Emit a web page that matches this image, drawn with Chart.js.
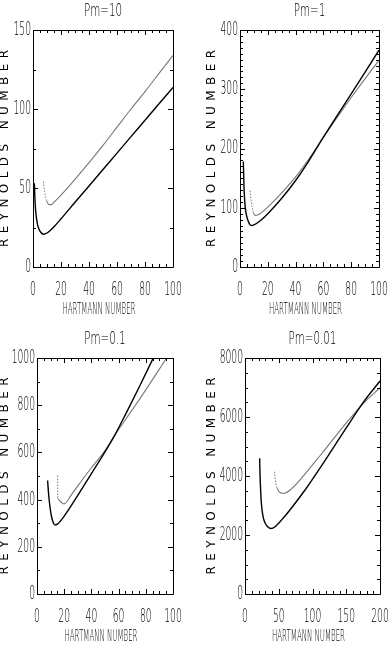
<!DOCTYPE html>
<html><head><meta charset="utf-8">
<script src="https://cdn.jsdelivr.net/npm/chart.js@4.4.1/dist/chart.umd.min.js"></script>
<style>
html,body{margin:0;padding:0;background:#fff;width:388px;height:652px;overflow:hidden}
canvas{position:absolute;left:0;top:0}
</style></head><body>
<canvas id="c1" width="388" height="652"></canvas>
<canvas id="c2" width="388" height="652"></canvas>
<canvas id="c3" width="388" height="652"></canvas>
<canvas id="c4" width="388" height="652"></canvas>
<script>
// ---------- Pm = 10 ----------
const pm10_xTicks = [0, 20, 40, 60, 80, 100];
const pm10_yTicks = [0, 50, 100, 150];
const pm10_blackH  = [1, 1.3, 1.7, 2.3, 3, 4, 5.5, 7.4, 10, 15, 20, 30, 40, 50, 60, 70, 80, 90, 100];
const pm10_blackRe = [53, 45, 38, 32, 28, 24.5, 22, 20.7, 21.5, 25.5, 30.5, 41, 51.3, 61.7, 72.1, 82.5, 92.9, 103.3, 113.7];
const pm10_dotH  = [7.4, 8.2, 9, 9.8];
const pm10_dotRe = [54, 48, 44, 41.5];
const pm10_grayH  = [9.8, 11.4, 13, 15, 20, 30, 40, 50, 60, 70, 80, 90, 100];
const pm10_grayRe = [41.5, 39.5, 39.5, 41, 45.5, 55.5, 66, 77, 88.5, 100, 111, 122.5, 134];

// ---------- Pm = 1 ----------
const pm1_xTicks = [0, 20, 40, 60, 80, 100];
const pm1_yTicks = [0, 100, 200, 300, 400];
const pm1_blackH  = [2.4, 2.7, 3, 3.5, 4, 5, 6, 7, 8.2, 10, 15, 20, 30, 40, 50, 60, 70, 80, 90, 100];
const pm1_blackRe = [178, 150, 128, 108, 96, 84, 77, 72, 70, 71, 79, 90, 116, 146, 181, 219, 256, 292, 329, 366];
const pm1_dotH  = [7.2, 8, 8.8, 9.6];
const pm1_dotRe = [129, 112, 100, 91];
const pm1_grayH  = [9.6, 10.8, 13, 15, 20, 30, 40, 50, 60, 70, 80, 90, 100];
const pm1_grayRe = [91, 87, 88, 91, 101, 125, 152, 184, 219, 253, 286, 318, 349];

// ---------- Pm = 0.1 ----------
const pm01_xTicks = [0, 20, 40, 60, 80, 100];
const pm01_yTicks = [0, 200, 400, 600, 800, 1000];
const pm01_blackH  = [7.8, 8.3, 9, 10, 11, 12, 13.2, 15, 20, 30, 40, 50, 57, 65, 75, 85.5];
const pm01_blackRe = [481, 440, 395, 350, 320, 302, 292, 296, 330, 418, 510, 602, 671, 760, 875, 1000];
const pm01_dotH  = [15.2, 15.2];
const pm01_dotRe = [502, 404];
const pm01_grayH  = [15.2, 20, 25, 30, 40, 50, 57, 70, 80, 95.3];
const pm01_grayRe = [404, 382, 418, 458, 535, 608, 671, 780, 865, 1000];

// ---------- Pm = 0.01 ----------
const pm001_xTicks = [0, 50, 100, 150, 200];
const pm001_yTicks = [0, 2000, 4000, 6000, 8000];
const pm001_blackH  = [21.7, 22.2, 23, 24, 25.5, 27.5, 30, 34, 38.5, 45, 55, 70, 90, 112, 130, 150, 176, 200];
const pm001_blackRe = [4600, 4100, 3600, 3150, 2800, 2550, 2400, 2270, 2220, 2290, 2530, 2950, 3560, 4300, 4930, 5630, 6520, 7220];
const pm001_dotH  = [43.7, 44.5, 45.5, 46.5, 47.7];
const pm001_dotRe = [4146, 3950, 3780, 3660, 3583];
const pm001_grayH  = [47.7, 50, 53, 56, 60, 65, 80, 100, 112, 130, 150, 174, 200];
const pm001_grayRe = [3583, 3480, 3430, 3413, 3425, 3490, 3830, 4380, 4712, 5230, 5800, 6430, 6993];

const panelTitles = ["Pm=10", "Pm=1", "Pm=0.1", "Pm=0.01"];
const xTitle = "HARTMANN NUMBER";
const yTitle = "REYNOLDS NUMBER";

const FONT = '200 19px "DejaVu Sans", "Liberation Sans", sans-serif';

function zip(xs, ys) { return xs.map((x, i) => ({x: x, y: ys[i]})); }

function condText(ctx, txt, x, y, font, sx, align) {
  ctx.save();
  ctx.translate(x, y);
  ctx.scale(sx, 1);
  ctx.font = font;
  ctx.textAlign = align;
  ctx.textBaseline = 'middle';
  ctx.fillStyle = '#000';
  ctx.fillText(txt, 0, 0);
  ctx.restore();
}
function scaleFor(ctx, font, sample, targetW) {
  ctx.save(); ctx.font = font; const w = ctx.measureText(sample).width; ctx.restore();
  return targetW / w;
}

const framePlugin = {
  id: 'frame',
  afterDraw(chart) {
    const o = chart.options.plugins.frame;
    const ctx = chart.ctx, a = chart.chartArea;
    const xs = chart.scales.x, ys = chart.scales.y;
    ctx.save();
    ctx.strokeStyle = '#000';
    ctx.lineWidth = 1;
    ctx.beginPath();
    ctx.rect(Math.round(a.left) + 0.5, Math.round(a.top) + 0.5, Math.round(a.right - a.left), Math.round(a.bottom - a.top));
    ctx.stroke();
    const MAJ = 5, MIN = 3;
    ctx.beginPath();
    for (let v = xs.min; v <= xs.max + 1e-9; v += o.xMinor) {
      const p = Math.round(xs.getPixelForValue(v)) + 0.5;
      const L = o.xTicks.includes(v) ? MAJ : MIN;
      ctx.moveTo(p, a.bottom); ctx.lineTo(p, a.bottom - L);
      ctx.moveTo(p, a.top); ctx.lineTo(p, a.top + L);
    }
    for (let v = ys.min; v <= ys.max + 1e-9; v += o.yMinor) {
      const p = Math.round(ys.getPixelForValue(v)) + 0.5;
      const L = o.yTicks.includes(v) ? MAJ : MIN;
      ctx.moveTo(a.left, p); ctx.lineTo(a.left + L, p);
      ctx.moveTo(a.right, p); ctx.lineTo(a.right - L, p);
    }
    ctx.stroke();
    // tick labels (condensed)
    const tf = '200 19px "DejaVu Sans", "Liberation Sans", sans-serif';
    const tsx = scaleFor(ctx, tf, '000', 17.5);
    o.xTicks.forEach(v => condText(ctx, String(v), xs.getPixelForValue(v), a.bottom + 23.5, tf, tsx, 'center'));
    o.yTicks.forEach(v => condText(ctx, String(v), a.left - 2, ys.getPixelForValue(v), tf, tsx, 'right'));
    // titles
    const cx = (a.left + a.right) / 2;
    const hf = '200 18px "DejaVu Sans", "Liberation Sans", sans-serif';
    const hsx = scaleFor(ctx, hf, 'Pm=10', 38);
    condText(ctx, o.title, cx, a.top - 19, hf, hsx, 'center');
    const xf = '200 16px "DejaVu Sans", "Liberation Sans", sans-serif';
    const xsx = scaleFor(ctx, xf, xTitle, 73);
    condText(ctx, xTitle, cx - 4, a.bottom + 43, xf, xsx, 'center');
    // y title rotated, letter spaced
    ctx.save();
    ctx.translate(o.yTitleX, (a.top + a.bottom) / 2);
    ctx.rotate(-Math.PI / 2);
    ctx.font = '12px "DejaVu Sans", sans-serif';
    ctx.fillStyle = '#000';
    ctx.textBaseline = 'middle';
    ctx.textAlign = 'left';
    const w0 = ctx.measureText(yTitle).width;
    const target = 197;
    const sp = (target - w0) / (yTitle.length - 1);
    let xx = -target / 2;
    for (const ch of yTitle) {
      ctx.fillText(ch, xx, 0);
      xx += ctx.measureText(ch).width + sp;
    }
    ctx.restore();
    ctx.restore();
  }
};

function makePanel(id, area, title, xMax, yMax, xTicks, yTicks, xMinor, yMinor, yTitleX, bH, bR, dH, dR, gH, gR) {
  new Chart(document.getElementById(id), {
    type: 'line',
    data: { datasets: [
      { data: zip(bH, bR), borderColor: '#000', borderWidth: 1.4, cubicInterpolationMode: 'monotone' },
      { data: zip(dH, dR), borderColor: '#777', borderWidth: 1, borderDash: [1.5, 1.5], tension: 0 },
      { data: zip(gH, gR), borderColor: '#777', borderWidth: 1.1, cubicInterpolationMode: 'monotone' }
    ]},
    options: {
      responsive: false, animation: false, events: [],
      layout: { padding: { left: area[0], top: area[1], right: 388 - area[2], bottom: 652 - area[3] } },
      elements: { point: { radius: 0 }, line: { fill: false } },
      scales: {
        x: { type: 'linear', display: false, min: 0, max: xMax },
        y: { type: 'linear', display: false, min: 0, max: yMax }
      },
      plugins: {
        legend: { display: false }, tooltip: { enabled: false },
        frame: { title: title, xTicks: xTicks, yTicks: yTicks, xMinor: xMinor, yMinor: yMinor, yTitleX: yTitleX }
      }
    },
    plugins: [framePlugin]
  });
}

makePanel('c1', [33, 30, 173, 267], panelTitles[0], 100, 150, pm10_xTicks, pm10_yTicks, 5, 25, 5,
  pm10_blackH, pm10_blackRe, pm10_dotH, pm10_dotRe, pm10_grayH, pm10_grayRe);
makePanel('c2', [240, 30, 379, 267], panelTitles[1], 100, 400, pm1_xTicks, pm1_yTicks, 5, 10, 212,
  pm1_blackH, pm1_blackRe, pm1_dotH, pm1_dotRe, pm1_grayH, pm1_grayRe);
makePanel('c3', [37, 358, 173, 594], panelTitles[2], 100, 1000, pm01_xTicks, pm01_yTicks, 5, 100, 5,
  pm01_blackH, pm01_blackRe, pm01_dotH, pm01_dotRe, pm01_grayH, pm01_grayRe);
makePanel('c4', [245, 358, 380, 594], panelTitles[3], 200, 8000, pm001_xTicks, pm001_yTicks, 10, 500, 212,
  pm001_blackH, pm001_blackRe, pm001_dotH, pm001_dotRe, pm001_grayH, pm001_grayRe);
</script>
</body></html>
